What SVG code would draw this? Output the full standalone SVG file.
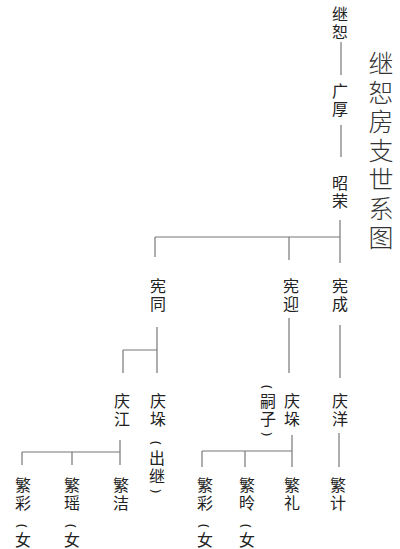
<svg xmlns="http://www.w3.org/2000/svg" width="400" height="549" viewBox="0 0 400 549">
<style>
.n{font-family:"Noto Sans CJK SC","Noto Sans",sans-serif;font-size:16px;fill:#222;text-anchor:middle}
.p{font-family:"Noto Sans","DejaVu Sans",sans-serif;font-size:13px;fill:#222;text-anchor:middle;dominant-baseline:central}
.t{font-family:"Noto Sans CJK SC","Noto Sans",sans-serif;font-size:25px;fill:#333;text-anchor:middle;font-weight:300}
.c{stroke:#777;stroke-width:1.2;fill:none}
</style>
<rect width="400" height="549" fill="#fff"/>
<g id="title"><text class="t" x="381"><tspan x="381" y="73">继</tspan><tspan x="381" y="102">恕</tspan><tspan x="381" y="131">房</tspan><tspan x="381" y="160">支</tspan><tspan x="381" y="189">世</tspan><tspan x="381" y="218">系</tspan><tspan x="381" y="247">图</tspan></text></g>
<g id="connectors" class="c">
<path d="M341 42V75M341 125V157M340 220V263M155 237H340M155 237V257M289 237V260"/>
<path d="M157 327V373M123 350H157M123 350V373M289 318V373M340 325V378"/>
<path d="M120 440V465M22 452H120M22 452V465M72 452V465"/>
<path d="M292 435V467M202 451H292M202 451V467M245 451V467M339 433V467"/>
</g>
<g id="n-jishu"><text class="n"><tspan x="340" y="20">继</tspan><tspan x="340" y="38">恕</tspan></text></g>
<g id="n-guanghou"><text class="n"><tspan x="340" y="97">广</tspan><tspan x="340" y="115">厚</tspan></text></g>
<g id="n-zhaorong"><text class="n"><tspan x="340" y="189">昭</tspan><tspan x="340" y="207">荣</tspan></text></g>
<g id="n-xiantong"><text class="n"><tspan x="158" y="292">宪</tspan><tspan x="158" y="310">同</tspan></text></g>
<g id="n-xianying"><text class="n"><tspan x="291" y="292">宪</tspan><tspan x="291" y="310">迎</tspan></text></g>
<g id="n-xiancheng"><text class="n"><tspan x="340" y="292">宪</tspan><tspan x="340" y="310">成</tspan></text></g>
<g id="n-qingjiang"><text class="n"><tspan x="122" y="407">庆</tspan><tspan x="122" y="425">江</tspan></text></g>
<g id="n-qingduo1"><text class="n"><tspan x="158" y="407">庆</tspan><tspan x="158" y="425">垛</tspan></text>
<text class="p" transform="translate(157 443) rotate(90)">(</text>
<text class="n"><tspan x="157" y="464">出</tspan><tspan x="157" y="482">继</tspan></text>
<text class="p" transform="translate(157 491) rotate(90)">)</text></g>
<g id="n-qingduo2"><text class="p" transform="translate(268 387) rotate(90)">(</text>
<text class="n"><tspan x="268" y="407">嗣</tspan><tspan x="268" y="425">子</tspan></text>
<text class="p" transform="translate(268 434) rotate(90)">)</text>
<text class="n"><tspan x="292" y="407">庆</tspan><tspan x="292" y="425">垛</tspan></text></g>
<g id="n-qingyang"><text class="n"><tspan x="340" y="407">庆</tspan><tspan x="340" y="425">洋</tspan></text></g>
<g id="n-fancai1"><text class="n"><tspan x="23" y="491">繁</tspan><tspan x="23" y="509">彩</tspan><tspan x="23" y="546">女</tspan></text><text class="p" transform="translate(23 526) rotate(90)">(</text></g>
<g id="n-fanyao"><text class="n"><tspan x="72" y="491">繁</tspan><tspan x="72" y="509">瑶</tspan><tspan x="72" y="546">女</tspan></text><text class="p" transform="translate(72 526) rotate(90)">(</text></g>
<g id="n-fanjie"><text class="n"><tspan x="121" y="491">繁</tspan><tspan x="121" y="509">洁</tspan></text></g>
<g id="n-fancai2"><text class="n"><tspan x="205" y="491">繁</tspan><tspan x="205" y="509">彩</tspan><tspan x="205" y="546">女</tspan></text><text class="p" transform="translate(205 526) rotate(90)">(</text></g>
<g id="n-fanling"><text class="n"><tspan x="247" y="491">繁</tspan><tspan x="247" y="509">昤</tspan><tspan x="247" y="546">女</tspan></text><text class="p" transform="translate(247 526) rotate(90)">(</text></g>
<g id="n-fanli"><text class="n"><tspan x="292" y="491">繁</tspan><tspan x="292" y="509">礼</tspan></text></g>
<g id="n-fanji"><text class="n"><tspan x="338" y="491">繁</tspan><tspan x="338" y="509">计</tspan></text></g>
</svg>
